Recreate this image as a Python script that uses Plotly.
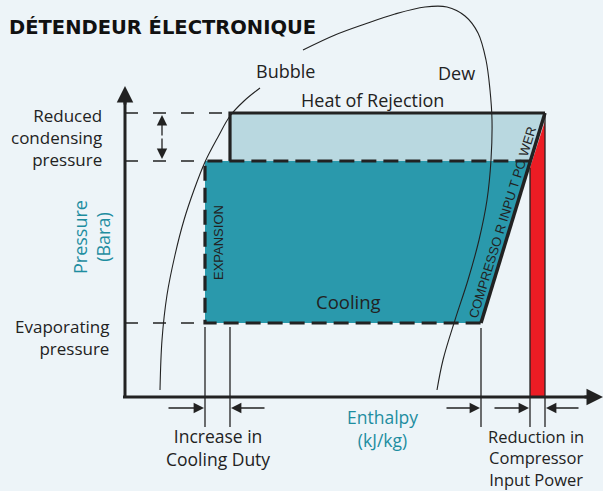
import plotly.graph_objects as go

# ---- schematic values (drawing units: enthalpy -> x, pressure -> y, y grows downward) ----
H_EXP_NEW, H_EXP_OLD, H_COMP_IN, H_COMP_OUT_NEW, H_COMP_OUT_OLD = 205, 230, 481, 530, 545
P_COND_OLD, P_COND_NEW, P_EVAP = 113, 161, 323
AXIS_H0, AXIS_P0 = 125, 397          # origin of the axes
AXIS_H1, AXIS_P1 = 603, 86           # arrow tips
RED_TOP = [168, 121]                 # top of compressor-power bar (left, right)

DOME_LEFT_H = [160, 162, 167, 175, 184, 194, 205, 218, 230, 244, 260]
DOME_LEFT_P = [390, 340, 295, 255, 220, 190, 162, 137, 116, 101, 88]
DOME_TOP_H = [303, 335, 365, 395, 425, 447, 465, 478, 486, 490, 492, 491, 487, 479, 468, 455, 443, 437]
DOME_TOP_P = [50, 35, 24, 14, 7, 7, 16, 33, 60, 90, 120, 160, 200, 240, 280, 320, 360, 390]

BG = "#EDF4F8"
LIGHT = "#B9D8E0"
TEAL = "#2A99AC"
RED = "#EC1C24"
TEAL_TXT = "#1E8DA0"
INK = "#222222"
FONT = "Open Sans"

fig = go.Figure()

def line(xs, ys, width=1.2, color=INK, dash=None, shape="linear"):
    fig.add_trace(go.Scatter(x=xs, y=ys, mode="lines", hoverinfo="skip", showlegend=False,
                             line=dict(color=color, width=width, dash=dash, shape=shape)))

def poly(xs, ys, fill):
    fig.add_trace(go.Scatter(x=xs + [xs[0]], y=ys + [ys[0]], mode="lines", fill="toself",
                             fillcolor=fill, line=dict(width=0, color=fill),
                             hoverinfo="skip", showlegend=False))

def comp_h(p):
    return H_COMP_IN + (H_COMP_OUT_OLD - H_COMP_IN) * (P_EVAP - p) / (P_EVAP - P_COND_OLD)

# regions
poly([H_EXP_OLD, H_COMP_OUT_OLD, comp_h(P_COND_NEW), H_EXP_OLD],
     [P_COND_OLD, P_COND_OLD, P_COND_NEW, P_COND_NEW], LIGHT)
poly([H_EXP_NEW, comp_h(P_COND_NEW), H_COMP_IN, H_EXP_NEW],
     [P_COND_NEW, P_COND_NEW, P_EVAP, P_EVAP], TEAL)
poly([H_COMP_OUT_NEW, H_COMP_OUT_OLD, H_COMP_OUT_OLD, H_COMP_OUT_NEW],
     [RED_TOP[0], RED_TOP[1], AXIS_P0, AXIS_P0], RED)

# dome (bubble / dew)
line(DOME_LEFT_H, DOME_LEFT_P, 1.1, shape="spline")
line(DOME_TOP_H, DOME_TOP_P, 1.1, shape="spline")

# pressure level dashed guides
for p, h_end in [(P_COND_OLD, H_EXP_OLD), (P_COND_NEW, H_EXP_NEW), (P_EVAP, H_EXP_NEW)]:
    line([AXIS_H0, h_end], [p, p], 1.3, dash="13px,15px")

# original cycle (solid)
line([H_EXP_OLD, H_EXP_OLD, H_COMP_OUT_OLD], [P_COND_NEW, P_COND_OLD, P_COND_OLD], 3.2)
line([H_COMP_IN, H_COMP_OUT_OLD], [P_EVAP, P_COND_OLD], 3.5)
# new cycle (dashed)
line([comp_h(P_COND_NEW), H_EXP_NEW, H_EXP_NEW, H_COMP_IN],
     [P_COND_NEW, P_COND_NEW, P_EVAP, P_EVAP], 3.2, dash="15px,7px")

# vertical guide lines below the cycle
for h, p0 in [(H_EXP_NEW, P_EVAP + 4), (H_EXP_OLD, P_EVAP + 4), (H_COMP_IN, P_EVAP + 5),
              (H_COMP_OUT_NEW, RED_TOP[0]), (H_COMP_OUT_OLD, P_COND_OLD)]:
    line([h, h], [p0, 427], 1.3)

# axes
line([AXIS_H0, AXIS_H0], [AXIS_P0 + 1, AXIS_P1 + 8], 3)
line([AXIS_H0 - 2, AXIS_H1 - 8], [AXIS_P0, AXIS_P0], 3)

ann = []

def arrow(x, y, ax, ay, width=1.3, size=1.6):
    ann.append(dict(x=x, y=y, ax=ax, ay=ay, xref="x", yref="y", axref="x", ayref="y",
                    showarrow=True, arrowhead=2, arrowsize=size, arrowwidth=width,
                    arrowcolor=INK, text=""))

arrow(AXIS_H0, AXIS_P1, AXIS_H0, AXIS_P1 + 20, 3, 1.1)
arrow(AXIS_H1, AXIS_P0, AXIS_H1 - 20, AXIS_P0, 3, 1.1)
mid = (P_COND_OLD + P_COND_NEW) / 2
arrow(162, P_COND_OLD + 2, 162, mid)
arrow(162, P_COND_NEW - 2, 162, mid)
arrow(H_EXP_NEW - 1, 408, 167, 408)
arrow(H_EXP_OLD + 1, 408, 266, 408)
arrow(H_COMP_IN - 1, 408, 445, 408)
arrow(H_COMP_OUT_NEW - 1, 408, 493, 408)
arrow(H_COMP_OUT_OLD + 1, 408, 580, 408)

def text(x, y, s, size=18, color=INK, xanchor="center", align="center", angle=0,
         family=FONT, bold=False):
    ann.append(dict(x=x, y=y, xref="x", yref="y", text=("<b>%s</b>" % s) if bold else s,
                    showarrow=False, xanchor=xanchor, yanchor="middle", align=align,
                    textangle=angle, font=dict(family=family, size=size, color=color)))

text(7, 27, "DÉTENDEUR ÉLECTRONIQUE", 19.5, "#111111", xanchor="left",
     family="DejaVu Sans", bold=True)
text(285, 71, "Bubble")
text(456, 73, "Dew")
text(372, 100, "Heat of Rejection")
text(348, 301, "Cooling", 18.5)
text(218, 243, "EXPANSION", 13, angle=-90, family="Liberation Sans")
text(502, 222, "COMPRESSO R INPU T PO WER", 13, angle=-72.8, family="Liberation Sans")
text(104, 137.5, "Reduced<br>condensing<br>pressure", 17, xanchor="right", align="right")
text(111, 337, "Evaporating<br>pressure", 17, xanchor="right", align="right")
text(91, 237, "Pressure<br>(Bara)", 18, TEAL_TXT, angle=-90)
text(382, 428.5, "Enthalpy<br>(kJ/kg)", 17.5, TEAL_TXT)
text(218, 447, "Increase in<br>Cooling Duty", 17.5)
text(536, 458, "Reduction in<br>Compressor<br>Input Power", 16.5)

fig.update_layout(
    width=603, height=491, margin=dict(l=0, r=0, t=0, b=0),
    paper_bgcolor=BG, plot_bgcolor=BG, annotations=ann,
    xaxis=dict(range=[0, 603], visible=False, fixedrange=True),
    yaxis=dict(range=[491, 0], visible=False, fixedrange=True),
)

fig.write_html("out.html", config={"displayModeBar": False},
               post_script="document.body.style.margin='0';"
                           "document.body.style.background='" + BG + "';")
